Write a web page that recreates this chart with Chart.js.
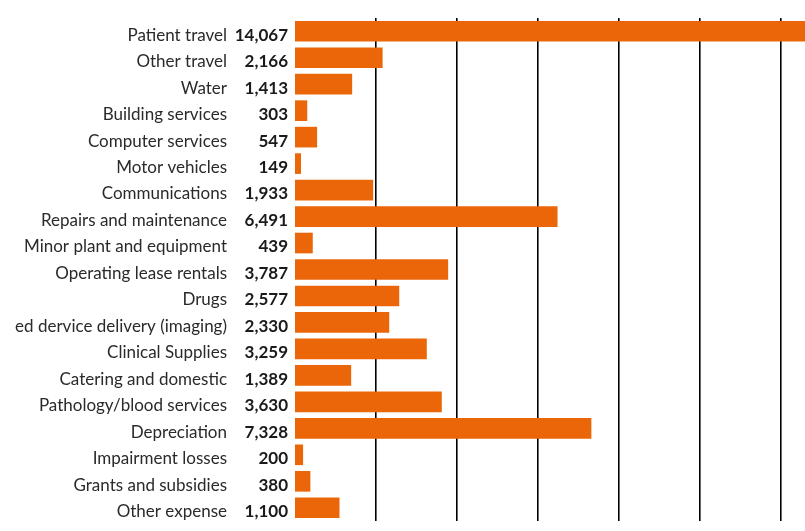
<!DOCTYPE html>
<html>
<head>
<meta charset="utf-8">
<script src="https://cdn.jsdelivr.net/npm/chart.js@4"></script>
<style>
html,body{margin:0;padding:0;background:#fff;}
#wrap{width:805px;height:531px;position:relative;}
</style>
</head>
<body>
<div id="wrap"><canvas id="c" width="805" height="531"></canvas></div>
<script>
const categories = ["Patient travel","Other travel","Water","Building services","Computer services","Motor vehicles","Communications","Repairs and maintenance","Minor plant and equipment","Operating lease rentals","Drugs","ed dervice delivery (imaging)","Clinical Supplies","Catering and domestic","Pathology/blood services","Depreciation","Impairment losses","Grants and subsidies","Other expense"];
const values = [14067,2166,1413,303,547,149,1933,6491,439,3787,2577,2330,3259,1389,3630,7328,200,380,1100];
const gridTicks = [2000,4000,6000,8000,10000,12000];

const sideLabels = {
  id: 'sideLabels',
  afterDraw(chart) {
    const ctx = chart.ctx;
    const y = chart.scales.y;
    ctx.save();
    ctx.textAlign = 'right';
    ctx.textBaseline = 'alphabetic';
    categories.forEach((c, i) => {
      const py = y.getPixelForValue(i) + 9.4;
      ctx.font = '17px Lato';
      ctx.fillStyle = '#2a2a2a';
      ctx.fillText(c, 227, py);
      ctx.font = 'bold 17px Lato';
      ctx.fillStyle = '#1a1a1a';
      ctx.fillText(values[i].toLocaleString('en-US'), 288, py);
    });
    ctx.restore();
  }
};

new Chart(document.getElementById('c'), {
  type: 'bar',
  data: {
    labels: categories,
    datasets: [{
      data: values,
      backgroundColor: '#EB6608',
      borderWidth: 0,
      barPercentage: 0.78,
      categoryPercentage: 1.0
    }]
  },
  options: {
    indexAxis: 'y',
    responsive: false,
    maintainAspectRatio: false,
    animation: false,
    devicePixelRatio: 1,
    layout: { padding: { top: 18, bottom: 10, left: 0, right: 0 } },
    plugins: { legend: { display: false }, tooltip: { enabled: false } },
    scales: {
      x: {
        min: 0,
        max: 12610,
        ticks: { display: false },
        border: { display: false },
        grid: { drawTicks: false, lineWidth: 1.6, color: '#000' },
        afterBuildTicks(scale) { scale.ticks = gridTicks.map(v => ({ value: v })); },
        afterFit(scale) { scale.paddingLeft = 0; scale.paddingRight = 0; }
      },
      y: {
        ticks: { display: false },
        border: { display: false },
        grid: { display: false, drawTicks: false },
        afterFit(scale) { scale.width = 295; scale.paddingTop = 0; scale.paddingBottom = 0; }
      }
    }
  },
  plugins: [sideLabels]
});
</script>
</body>
</html>
